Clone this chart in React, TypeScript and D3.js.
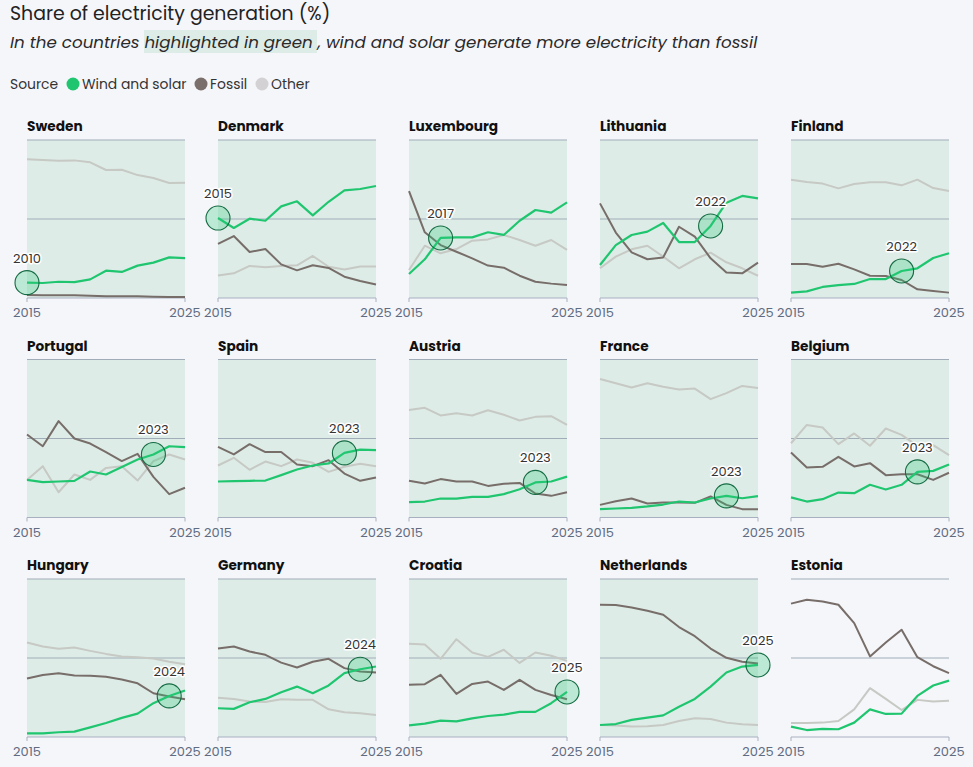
import React from 'react'
import * as d3 from 'd3'

const years = [2015, 2016, 2017, 2018, 2019, 2020, 2021, 2022, 2023, 2024, 2025]
const countries = ['Sweden', 'Denmark', 'Luxembourg', 'Lithuania', 'Finland', 'Portugal', 'Spain', 'Austria', 'France', 'Belgium', 'Hungary', 'Germany', 'Croatia', 'Netherlands', 'Estonia']
const crossYear = [2010, 2015, 2017, 2022, 2022, 2023, 2023, 2023, 2023, 2023, 2024, 2024, 2025, 2025, null]

const windSolar = [
  [9.7, 9.5, 10.3, 10.1, 11.8, 17.3, 16.5, 20.5, 22.4, 25.7, 25.3],
  [50.6, 44.3, 50.2, 48.9, 58.0, 61.2, 52.3, 60.9, 68.1, 69.0, 70.9],
  [15.2, 24.5, 38.0, 38.4, 38.4, 41.6, 39.9, 48.9, 55.7, 54.0, 60.5],
  [20.9, 33.5, 39.9, 42.0, 47.5, 35.4, 35.4, 45.6, 60.3, 64.6, 63.1],
  [3.4, 4.2, 7.0, 8.2, 8.9, 12.0, 12.0, 17.1, 18.8, 25.3, 28.3],
  [23.8, 22.4, 22.8, 23.2, 29.1, 27.2, 31.9, 36.7, 39.9, 45.1, 44.5],
  [22.8, 23.0, 23.2, 23.4, 26.8, 30.4, 32.9, 34.2, 40.9, 43.0, 42.6],
  [9.7, 10.1, 12.0, 12.0, 13.1, 13.1, 14.8, 17.9, 22.2, 22.8, 25.9],
  [5.3, 5.7, 6.1, 7.0, 8.2, 10.1, 9.5, 12.0, 13.7, 12.2, 13.5],
  [12.7, 10.1, 11.6, 15.8, 15.4, 20.7, 17.7, 20.7, 28.9, 29.5, 33.5],
  [2.3, 2.3, 3.0, 3.4, 6.1, 8.9, 12.1, 14.8, 21.4, 26.0, 29.4],
  [18.2, 17.8, 22.0, 24.1, 28.3, 31.9, 27.7, 32.6, 40.4, 42.9, 44.6],
  [7.4, 8.5, 10.4, 9.9, 11.8, 13.3, 14.2, 15.9, 15.9, 21.4, 28.5],
  [7.6, 8.2, 10.8, 12.3, 13.7, 19.2, 24.1, 31.9, 40.8, 44.6, 45.6],
  [6.6, 4.4, 5.1, 4.9, 9.1, 17.5, 14.6, 14.8, 26.0, 32.6, 35.7],
]

const fossil = [
  [1.9, 1.7, 1.7, 1.7, 1.5, 1.1, 1.1, 1.1, 0.8, 0.6, 0.6],
  [34.2, 39.2, 29.1, 31.0, 21.3, 17.5, 20.7, 19.0, 13.5, 10.8, 8.6],
  [67.7, 41.6, 33.5, 29.3, 25.1, 20.5, 19.2, 14.1, 10.3, 9.1, 8.2],
  [59.9, 41.4, 28.9, 24.5, 25.7, 45.1, 38.8, 25.1, 16.2, 15.6, 22.4],
  [21.5, 21.5, 19.8, 21.7, 18.1, 14.1, 13.9, 11.4, 5.5, 4.4, 3.4],
  [52.5, 45.1, 61.0, 50.0, 46.8, 41.4, 35.7, 40.3, 25.7, 14.8, 18.8],
  [44.7, 39.9, 46.4, 41.4, 41.4, 33.5, 32.5, 36.3, 27.8, 23.2, 25.3],
  [23.2, 21.5, 24.3, 22.8, 22.8, 20.0, 21.3, 21.9, 15.2, 13.7, 16.0],
  [8.0, 10.3, 12.0, 8.9, 9.5, 9.5, 9.3, 13.3, 8.0, 5.3, 5.3],
  [41.1, 31.6, 32.1, 38.4, 32.3, 34.4, 26.8, 27.4, 27.4, 23.8, 28.3],
  [37.0, 39.3, 40.4, 38.9, 38.7, 38.1, 36.4, 34.0, 27.7, 25.6, 23.9],
  [56.0, 57.3, 54.1, 52.0, 47.1, 44.0, 47.6, 49.5, 43.6, 41.4, 40.8],
  [33.0, 33.4, 39.3, 27.3, 33.6, 35.1, 29.8, 36.2, 29.8, 26.6, 23.9],
  [83.7, 83.5, 82.0, 79.9, 77.4, 69.6, 63.8, 56.0, 50.1, 47.6, 46.5],
  [84.4, 86.9, 85.8, 83.7, 72.1, 51.0, 59.8, 67.9, 50.5, 44.8, 40.4],
]

const other = [
  [87.8, 87.3, 86.9, 87.1, 85.9, 81.0, 81.2, 77.8, 75.9, 72.8, 73.0],
  [14.3, 15.6, 20.3, 19.4, 20.3, 20.7, 26.6, 19.8, 18.1, 20.0, 20.0],
  [17.7, 33.1, 28.3, 31.0, 36.3, 37.1, 39.9, 36.7, 33.1, 36.7, 30.4],
  [18.8, 26.2, 30.8, 33.1, 26.2, 18.8, 24.5, 28.7, 22.6, 18.8, 14.1],
  [74.9, 73.4, 72.4, 69.4, 72.2, 73.2, 73.2, 71.3, 74.9, 69.6, 67.7],
  [23.8, 32.5, 16.0, 27.2, 23.8, 31.4, 32.5, 23.4, 35.7, 39.9, 36.7],
  [32.9, 37.8, 30.2, 35.4, 32.5, 36.7, 34.6, 28.9, 32.1, 34.0, 32.5],
  [68.1, 69.4, 64.6, 66.0, 64.6, 67.9, 65.0, 61.4, 63.7, 64.1, 58.6],
  [87.6, 85.0, 82.3, 85.0, 82.7, 81.0, 81.6, 74.9, 78.7, 83.3, 81.9],
  [47.0, 58.6, 57.0, 46.4, 53.2, 45.4, 56.3, 52.3, 45.4, 45.8, 39.5],
  [59.8, 57.3, 55.8, 56.7, 54.5, 52.6, 51.0, 50.5, 49.7, 47.6, 46.1],
  [24.9, 24.1, 22.4, 22.2, 23.9, 23.5, 23.5, 17.5, 15.6, 15.0, 14.0],
  [59.0, 58.6, 49.5, 61.9, 53.5, 50.7, 55.2, 46.9, 53.5, 51.4, 48.2],
  [7.6, 7.2, 6.6, 6.8, 7.6, 10.1, 11.8, 11.4, 9.1, 8.0, 7.6],
  [8.9, 8.9, 9.1, 10.1, 17.5, 30.9, 24.1, 17.1, 23.5, 22.4, 23.0],
]

const GREEN = '#1fc66f'
const FOSSIL = '#776d69'
const OTHER = '#c6c9c4'
const PANEL = '#deece8'
const GRID = '#a0adb8'
const FONT = 'Poppins, Inter, sans-serif'

const W = 973
const H = 767
const pw = 158
const ph = 158
const colX = [27, 218, 409, 600, 791]
const rowY = [140, 359.5, 579]

const x = d3.scaleLinear().domain([2015, 2025]).range([0, pw])
const y = d3.scaleLinear().domain([0, 100]).range([ph, 0])
const line = d3
  .line<number>()
  .x((_, i) => x(years[i]))
  .y(d => y(d))

const Panel = ({ idx }: { idx: number }) => {
  const tx = colX[idx % 5]
  const ty = rowY[Math.floor(idx / 5)]
  const cy = crossYear[idx]
  const hi = cy !== null
  let cx = 0
  let cyv = 0
  if (hi) {
    const yr = Math.max(cy as number, 2015)
    cx = x(yr)
    cyv = y(windSolar[idx][years.indexOf(yr)])
  }
  return (
    <g transform={`translate(${tx},${ty})`}>
      <text x={0} y={-9} fontSize={13.7} fontWeight={700} fill='#111' fontFamily={FONT}>
        {countries[idx]}
      </text>
      {hi && <rect x={0} y={0} width={pw} height={ph} fill={PANEL} />}
      <line x1={0} x2={pw} y1={0} y2={0} stroke={GRID} strokeWidth={1} />
      <line x1={0} x2={pw} y1={y(50)} y2={y(50)} stroke={GRID} strokeWidth={1} />
      <line x1={0} x2={pw} y1={ph} y2={ph} stroke='#a7b0c0' strokeWidth={1} />
      {[2015, 2025].map(t => (
        <g key={t}>
          <line x1={x(t)} x2={x(t)} y1={ph} y2={ph + 4} stroke='#a7b0c0' />
          <text x={x(t)} y={ph + 19} textAnchor='middle' fontSize={13} fill='#5f6b80' fontFamily={FONT}>
            {t}
          </text>
        </g>
      ))}
      <path d={line(other[idx]) || ''} fill='none' stroke={OTHER} strokeWidth={2} strokeLinejoin='round' />
      <path d={line(fossil[idx]) || ''} fill='none' stroke={FOSSIL} strokeWidth={2} strokeLinejoin='round' />
      <path d={line(windSolar[idx]) || ''} fill='none' stroke={GREEN} strokeWidth={2.2} strokeLinejoin='round' />
      {hi && (
        <g>
          <circle cx={cx} cy={cyv} r={12} fill='rgba(40,200,120,0.28)' stroke='#156b42' strokeWidth={1.1} />
          <text
            x={cx}
            y={cyv - 20}
            textAnchor='middle'
            fontSize={13}
            fill='#333'
            fontFamily={FONT}
            stroke='#ffffff'
            strokeWidth={3}
            strokeLinejoin='round'
            paintOrder='stroke'
          >
            {cy}
          </text>
        </g>
      )}
    </g>
  )
}

export default function App() {
  const legend = [
    { label: 'Wind and solar', color: GREEN, cx: 73 },
    { label: 'Fossil', color: '#7a6f6b', cx: 201 },
    { label: 'Other', color: '#d3d1d3', cx: 262 },
  ]
  return (
    <div style={{ position: 'absolute', left: 0, top: 0 }}>
      <svg width={W} height={H} style={{ display: 'block' }}>
        <rect x={0} y={0} width={W} height={H} fill='#f5f6fa' />
        <text x={10} y={20} fontSize={18.9} fill='#222' fontFamily={FONT}>
          Share of electricity generation (%)
        </text>
        <rect x={144} y={30} width={173} height={23} fill={PANEL} />
        <text x={10} y={48} fontSize={16.7} fontStyle='italic' fill='#2a2a2a' fontFamily={FONT}>
          In the countries highlighted in green , wind and solar generate more electricity than fossil
        </text>
        <text x={10} y={89} fontSize={13.9} fill='#333' fontFamily={FONT}>
          Source
        </text>
        {legend.map(l => (
          <g key={l.label}>
            <circle cx={l.cx} cy={84} r={6.5} fill={l.color} />
            <text x={l.cx + 9} y={89} fontSize={13.9} fill='#333' fontFamily={FONT}>
              {l.label}
            </text>
          </g>
        ))}
        {countries.map((_, i) => (
          <Panel key={i} idx={i} />
        ))}
      </svg>
    </div>
  )
}
